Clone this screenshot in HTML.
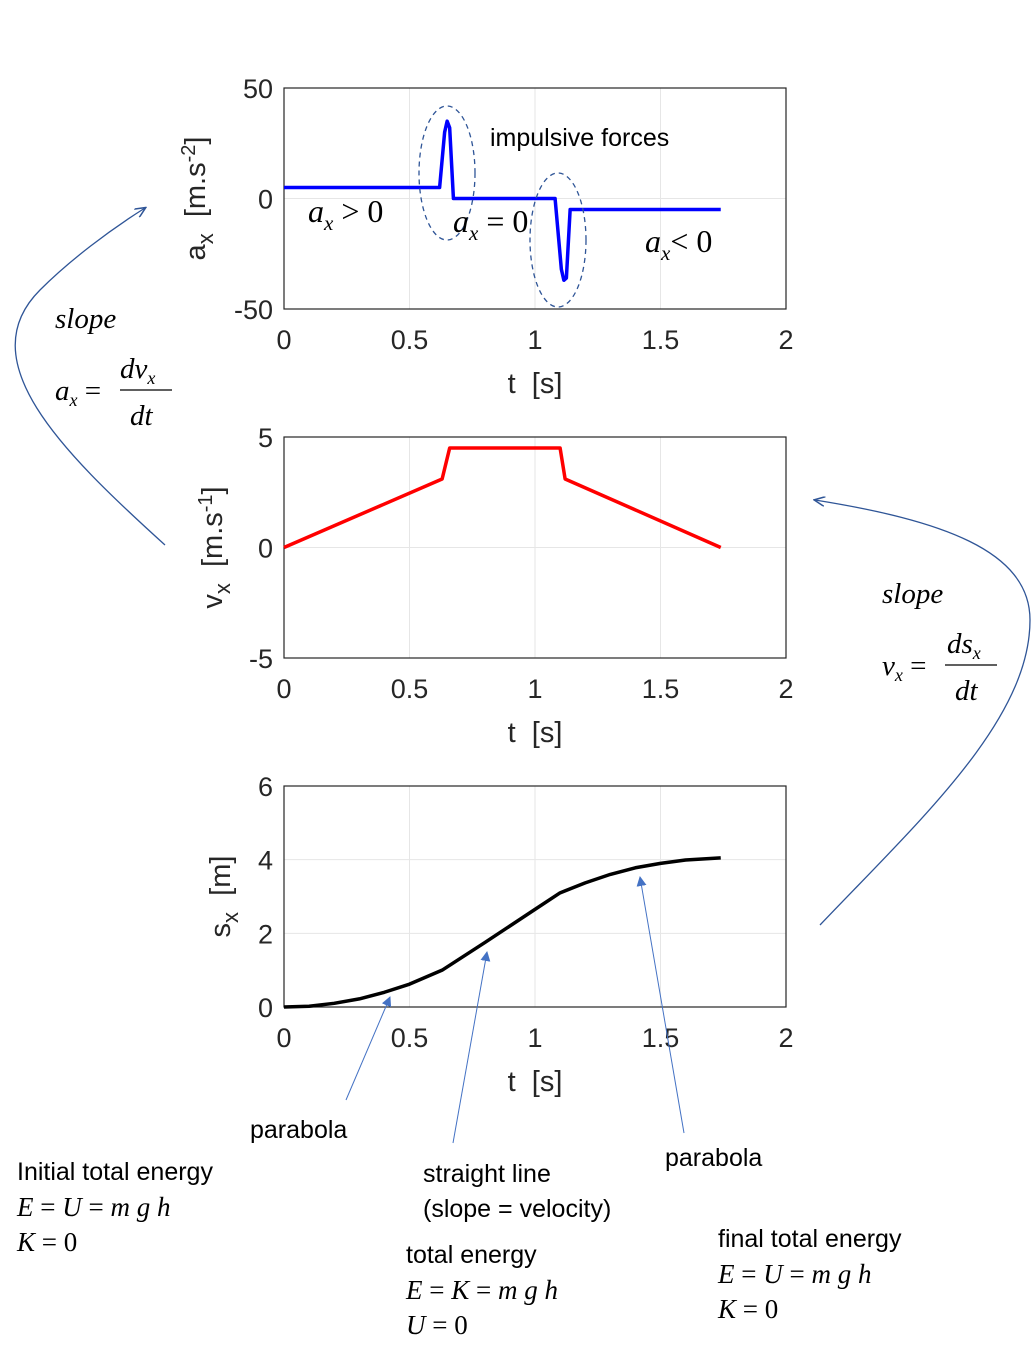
<!DOCTYPE html>
<html><head><meta charset="utf-8"><style>
body{margin:0;background:#fff;width:1032px;height:1358px;overflow:hidden}
svg text{font-family:"Liberation Sans",sans-serif}
svg text.m{font-family:"Liberation Serif",serif;font-style:italic}
.r{font-family:"Liberation Serif",serif}
</style></head><body>
<svg id="s" width="1032" height="1358">
<defs>
<marker id="ah" markerWidth="12" markerHeight="10" refX="10" refY="5" orient="auto" markerUnits="userSpaceOnUse"><path d="M0,0 L11,5 L0,10" fill="none" stroke="#2F5597" stroke-width="1.5"/></marker>
<marker id="ab" markerWidth="10" markerHeight="10" refX="9" refY="5" orient="auto" markerUnits="userSpaceOnUse"><path d="M0,0 L10,5 L0,10 z" fill="#4472C4"/></marker>
</defs>
<g id="charts"></g>
<g>
<text x="490" y="146" font-size="25">impulsive forces</text>
<ellipse cx="447" cy="173" rx="28" ry="67" fill="none" stroke="#2F5597" stroke-dasharray="5,4" stroke-width="1.3"/>
<ellipse cx="558" cy="240" rx="28" ry="67" fill="none" stroke="#2F5597" stroke-dasharray="5,4" stroke-width="1.3"/>
<text x="308" y="222" font-size="32" class="m">a<tspan font-size="21" dy="8">x</tspan><tspan dy="-8" class="r" font-style="normal"> &gt; 0</tspan></text>
<text x="453" y="232" font-size="32" class="m">a<tspan font-size="21" dy="8">x</tspan><tspan dy="-8" class="r" font-style="normal"> = 0</tspan></text>
<text x="645" y="252" font-size="32" class="m">a<tspan font-size="21" dy="8">x</tspan><tspan dy="-8" class="r" font-style="normal">&lt; 0</tspan></text>
<path d="M165,545 C60,450 -30,360 40,290 C70,260 110,230 145,208" fill="none" stroke="#2F5597" stroke-width="1.3" marker-end="url(#ah)"/>
<text x="55" y="328" font-size="29" class="m">slope</text>
<text x="55" y="400" font-size="29" class="m">a<tspan font-size="18" dy="6">x</tspan><tspan dy="-6" class="r" font-style="normal"> =</tspan></text>
<text x="120" y="378" font-size="29" class="m">dv<tspan font-size="18" dy="6">x</tspan></text>
<line x1="120" y1="390" x2="172" y2="390" stroke="#000" stroke-width="1.2"/>
<text x="130" y="425" font-size="29" class="m">dt</text>
<path d="M820,925 C920,820 1030,720 1030,620 C1030,550 940,520 815,500" fill="none" stroke="#2F5597" stroke-width="1.3" marker-end="url(#ah)"/>
<text x="882" y="603" font-size="29" class="m">slope</text>
<text x="882" y="675" font-size="29" class="m">v<tspan font-size="18" dy="6">x</tspan><tspan dy="-6" class="r" font-style="normal"> =</tspan></text>
<text x="947" y="653" font-size="29" class="m">ds<tspan font-size="18" dy="6">x</tspan></text>
<line x1="945" y1="665" x2="997" y2="665" stroke="#000" stroke-width="1.2"/>
<text x="955" y="700" font-size="29" class="m">dt</text>
<line x1="346" y1="1100" x2="390" y2="997" stroke="#4472C4" stroke-width="1" marker-end="url(#ab)"/>
<line x1="453" y1="1143" x2="487" y2="952" stroke="#4472C4" stroke-width="1" marker-end="url(#ab)"/>
<line x1="684" y1="1133" x2="640" y2="877" stroke="#4472C4" stroke-width="1" marker-end="url(#ab)"/>
<g font-size="25">
<text x="250" y="1138">parabola</text>
<text x="665" y="1166">parabola</text>
<text x="423" y="1182">straight line</text>
<text x="423" y="1217">(slope = velocity)</text>
<text x="17" y="1180">Initial total energy</text>
<text x="406" y="1263">total energy</text>
<text x="718" y="1247">final total energy</text>
</g>
<g font-size="27">
<text class="m" x="17" y="1216">E <tspan class="r" font-style="normal">=</tspan> U <tspan class="r" font-style="normal">=</tspan> m g h</text>
<text class="m" x="17" y="1251">K <tspan class="r" font-style="normal">= 0</tspan></text>
<text class="m" x="406" y="1299">E <tspan class="r" font-style="normal">=</tspan> K <tspan class="r" font-style="normal">=</tspan> m g h</text>
<text class="m" x="406" y="1334">U <tspan class="r" font-style="normal">= 0</tspan></text>
<text class="m" x="718" y="1283">E <tspan class="r" font-style="normal">=</tspan> U <tspan class="r" font-style="normal">=</tspan> m g h</text>
<text class="m" x="718" y="1318">K <tspan class="r" font-style="normal">= 0</tspan></text>
</g>
</g>
</svg>
<script>
const xTicks=[0,0.5,1,1.5,2];
const aT=[0,0.62,0.64,0.65,0.66,0.675,1.08,1.105,1.115,1.125,1.14,1.74];
const aV=[5,5,30,35,32,0,0,-32,-37,-36,-5,-5];
const vT=[0,0.63,0.66,1.1,1.12,1.74];
const vV=[0,3.1,4.5,4.5,3.1,0];
const sT=[0,0.1,0.2,0.3,0.4,0.5,0.63,0.8,1.0,1.1,1.2,1.3,1.4,1.5,1.6,1.74];
const sV=[0,0.02,0.1,0.22,0.4,0.62,1.0,1.75,2.65,3.1,3.37,3.6,3.78,3.9,3.99,4.05];
const aTicks=[-50,0,50],vTicks=[-5,0,5],sTicks=[0,2,4,6];
const NS="http://www.w3.org/2000/svg",G=document.getElementById('charts');
function mk(t,a,p){const e=document.createElementNS(NS,t);for(const k in a)e.setAttribute(k,a[k]);(p||G).appendChild(e);return e;}
function chart(name,top,yTicks,T,V,col,ylab){
 const L=284,R=786,B=top+221;
 const g=mk('g',{});
 
 
 const ymin=yTicks[0],ymax=yTicks[yTicks.length-1];
 const X=t=>L+(t-0)/(2)*(R-L),Y=v=>B-(v-ymin)/(ymax-ymin)*(B-top);
 xTicks.forEach(t=>{mk('line',{x1:X(t),x2:X(t),y1:top,y2:B,stroke:'#e6e6e6'},g);
  const tx=mk('text',{x:X(t),y:B+40,'font-size':27,'text-anchor':'middle',fill:'#262626'},g);tx.textContent=t;
  });
 yTicks.forEach(v=>{mk('line',{x1:L,x2:R,y1:Y(v),y2:Y(v),stroke:'#e6e6e6'},g);
  const tx=mk('text',{x:L-11,y:Y(v)+10,'font-size':27,'text-anchor':'end',fill:'#262626'},g);tx.textContent=v;
  });
 const fr=mk('rect',{x:L,y:top,width:R-L,height:B-top,fill:'none',stroke:'#262626','stroke-width':1.2},g);
 
 const pl=mk('polyline',{points:T.map((t,i)=>X(t)+','+Y(V[i])).join(' '),fill:'none',stroke:col,'stroke-width':3.5,'stroke-linejoin':'round'},g);
 
 const xl=mk('text',{x:535,y:B+84,'font-size':29,'text-anchor':'middle',fill:'#262626'},g);xl.textContent='t\u00a0\u00a0[s]';
 
 const yl=mk('text',{x:0,y:0,'font-size':29,'text-anchor':'middle',fill:'#262626',transform:`translate(${ylab[0]},${(top+B)/2}) rotate(-90)`},g);
 yl.innerHTML=ylab[1];
 
}
chart('acceleration-chart',88,aTicks,aT,aV,'#0000ff',[205,'a<tspan dy="8" font-size="22">x</tspan><tspan dy="-8">&#160;&#160;[m.s</tspan><tspan dy="-10" font-size="20">-2</tspan><tspan dy="10">]</tspan>']);
chart('velocity-chart',437,vTicks,vT,vV,'#ff0000',[222,'v<tspan dy="8" font-size="22">x</tspan><tspan dy="-8">&#160;&#160;[m.s</tspan><tspan dy="-10" font-size="20">-1</tspan><tspan dy="10">]</tspan>']);
chart('position-chart',786,sTicks,sT,sV,'#000000',[230,'s<tspan dy="8" font-size="22">x</tspan><tspan dy="-8">&#160;&#160;[m]</tspan>']);
</script>
</body></html>
